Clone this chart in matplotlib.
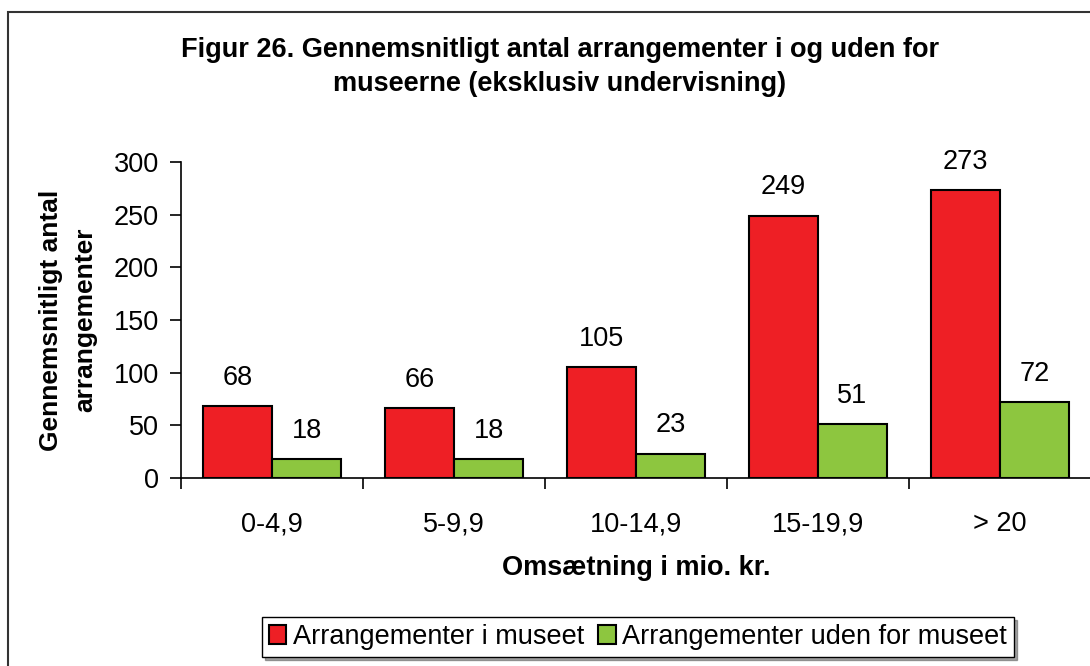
import matplotlib
matplotlib.use("Agg")
import matplotlib.pyplot as plt
import numpy as np
from matplotlib.patches import Rectangle

categories = ["0-4,9", "5-9,9", "10-14,9", "15-19,9", "> 20"]
inside = [68, 66, 105, 249, 273]
outside = [18, 18, 23, 51, 72]
series_names = ["Arrangementer i museet", "Arrangementer uden for museet"]
yticks = [0, 50, 100, 150, 200, 250, 300]

plt.rcParams['font.family'] = ['Liberation Sans', 'DejaVu Sans']

fig = plt.figure(figsize=(10.9, 6.66), dpi=100)
# outer frame
fig.patches.append(Rectangle((8/1090, -0.1), 1.2, 1 - 12/666 + 0.1, transform=fig.transFigure,
                             fill=False, edgecolor='#333333', linewidth=1.5))

ax = fig.add_axes([181/1090, 1 - 478/666, 910/1090, (478 - 162)/666])
x = np.arange(len(categories))
w = 0.38
b1 = ax.bar(x - w/2, inside, w, color='#ee1f25', edgecolor='black', linewidth=1.5)
b2 = ax.bar(x + w/2, outside, w, color='#8dc63f', edgecolor='black', linewidth=1.5)
for bars, vals in ((b1, inside), (b2, outside)):
    for r, v in zip(bars, vals):
        ax.annotate(str(v), (r.get_x() + r.get_width()/2, v), xytext=(0, 11),
                    textcoords='offset points', ha='center', va='bottom', fontsize=19.5)

ax.set_xlim(-0.5, len(categories) - 0.5)
ax.set_ylim(0, 300)
ax.set_yticks(yticks)
ax.set_xticks(np.arange(len(categories) + 1) - 0.5, minor=False)
ax.set_xticklabels([])
ax.set_xticks(x, minor=True)
ax.set_xticklabels(categories, minor=True)
ax.tick_params(axis='x', which='minor', length=0, pad=24, labelsize=19.5)
ax.tick_params(axis='x', which='major', length=8, width=1.2, direction='out')
ax.tick_params(axis='y', length=8, width=1.2, direction='out', labelsize=19.5, pad=8)
for s in ('top', 'right'):
    ax.spines[s].set_visible(False)
for s in ('left', 'bottom'):
    ax.spines[s].set_linewidth(1.2)

ax.set_xlabel("Omsætning i mio. kr.", fontsize=19.5, fontweight='bold', labelpad=13)
ax.set_ylabel("Gennemsnitligt antal\narrangementer", fontsize=19, fontweight='bold', labelpad=12,
              linespacing=1.5)

fig.text(560/1090, 1 - 67/666,
         "Figur 26. Gennemsnitligt antal arrangementer i og uden for\nmuseerne (eksklusiv undervisning)",
         ha='center', va='center', fontsize=19.5, fontweight='bold', linespacing=1.4)

leg = fig.legend([b1, b2], series_names, loc='center', bbox_to_anchor=(638/1090, 1 - 637/666),
                 ncol=2, fontsize=19.5, frameon=True, fancybox=False, shadow=True,
                 handlelength=0.65, handleheight=0.65, handletextpad=0.25, columnspacing=0.5,
                 borderpad=0.25, borderaxespad=0, edgecolor='black')
leg.get_frame().set_linewidth(1.0)

fig.savefig("out.png", dpi=100)
